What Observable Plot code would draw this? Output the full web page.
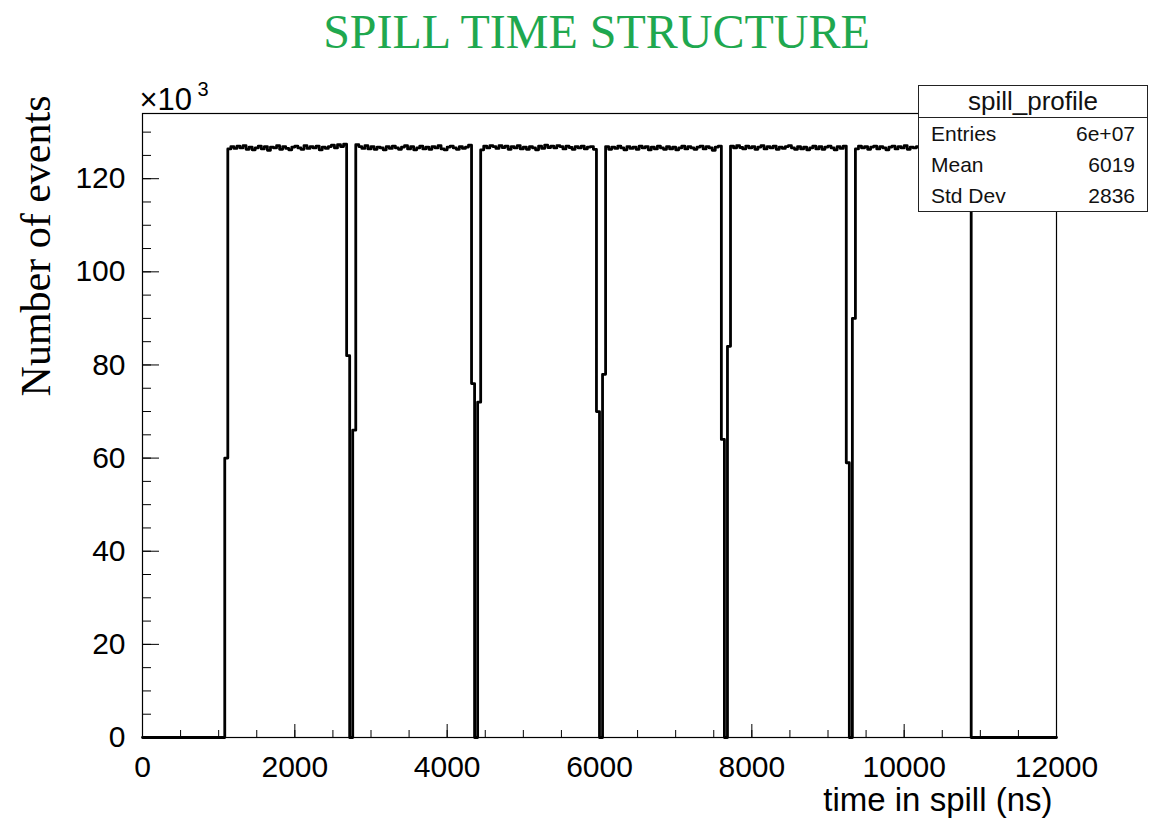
<!DOCTYPE html>
<html>
<head>
<meta charset="utf-8">
<script src="https://cdn.jsdelivr.net/npm/d3@7"></script>
<script src="https://cdn.jsdelivr.net/npm/@observablehq/plot@0.6"></script>
<style>
  html, body { margin: 0; padding: 0; background: #fff; }
  #wrap { position: relative; width: 1158px; height: 818px; overflow: hidden; background: #fff; }
  #stats { position: absolute; left: 918px; top: 85px; width: 228px; border: 1px solid #222; background: #fff;
           font-family: "Liberation Sans", Arial, sans-serif; color: #111; }
  #stats .st-title { height: 31px; line-height: 31px; text-align: center; font-size: 26px; border-bottom: 1px solid #222; }
  #stats .row { height: 31px; line-height: 31px; font-size: 21px; display: flex; justify-content: space-between; padding: 0 12px; }
</style>
</head>
<body>
<div id="wrap">
  <div id="chart"></div>
  <div id="stats"></div>
</div>
<script>
// ---- Data (counts in units of 10^3 events, 40 ns bins) ----
const binWidth = 40;
const xMax = 12000;
const leadZeros = [0,0,0,0,0,0,0,0,0,0, 0,0,0,0,0,0,0,0,0,0, 0,0,0,0,0,0,0];
const riseBin = [60];
const spill1 = [126.4,126.9,126.5,127.0,126.6,127.1,126.3,126.8,126.2,126.6,
                127.0,126.4,126.9,126.1,126.8,126.6,127.1,126.3,126.9,126.5,
                126.2,126.8,127.0,126.6,126.3,127.1,126.5,126.9,126.6,127.0,
                126.2,126.8,126.5,126.9,127.2,126.6,127.3,126.9,127.4];
const dip1 = [82, 0, 66];
const spill2 = [127.3,126.9,126.5,127.1,126.4,126.9,126.3,126.8,126.6,126.2,
                126.9,126.5,127.0,126.6,126.3,126.8,127.1,126.4,126.9,126.2,
                126.6,127.0,126.4,126.8,126.3,126.9,126.6,127.1,126.4,126.2,
                126.8,127.0,126.6,126.3,126.9,126.5,126.8,127.2];
const dip2 = [76, 0, 72];
const spill3 = [126.2,127.0,126.6,127.1,126.9,126.5,127.1,126.7,127.0,126.3,
                126.9,126.6,127.1,126.4,126.8,126.3,126.9,126.6,126.2,127.0,
                126.5,127.2,126.7,127.0,126.6,127.1,126.9,126.4,127.0,126.7,
                126.3,126.9,126.6,127.0,126.4,126.8,126.9,126.3];
const dip3 = [70, 0, 78];
const spill4 = [126.9,126.3,126.8,126.5,127.0,126.6,126.2,126.9,126.5,126.8,
                126.3,127.0,126.6,126.9,126.2,126.8,126.4,127.0,126.6,126.3,
                126.9,126.4,126.8,126.2,126.6,127.0,126.4,126.9,126.6,126.3,
                126.8,127.0,126.4,126.9,126.6,126.1,126.8,127.0];
const dip4 = [64, 0, 84];
const spill5 = [127.0,126.6,127.1,126.7,126.4,127.0,126.6,126.9,126.3,126.8,
                127.1,126.4,126.9,126.6,127.0,126.3,126.8,126.5,126.9,127.1,
                126.6,126.3,126.9,126.4,126.8,126.2,126.6,127.0,126.4,126.9,
                126.3,126.8,127.0,126.6,126.2,126.9,126.5,127.0];
const dip5 = [59, 0, 90];
const spill6 = [126.4,127.0,126.6,126.9,126.3,126.8,127.0,126.4,126.9,126.6,
                126.2,126.8,127.0,126.4,126.9,126.6,127.1,126.3,126.8,126.6,
                126.9,126.4,127.0,126.6,126.8,126.3,126.9,126.5,127.0,126.6,
                126.8,126.4,126.9,126.6,127.0,126.4,126.8,126.6];
const trailZeros = [0,0,0,0,0,0,0,0,0,0, 0,0,0,0,0,0,0,0,0,0, 0,0,0,0,0,0,0,0];

const xMajorTicks = [0, 2000, 4000, 6000, 8000, 10000, 12000];
const xMinorTicks = d3.range(0, 12001, 500);
const yMajorTicks = [0, 20, 40, 60, 80, 100, 120];
const yMinorTicks = d3.range(0, 131, 5);

const titleText = "SPILL TIME STRUCTURE";
const xLabel = "time in spill (ns)";
const yLabel = "Number of events";
const statsName = "spill_profile";
const statsLabels = ["Entries", "Mean", "Std Dev"];
const statsValues = ["6e+07", "6019", "2836"];

// ---- Build histogram outline ----
const counts = [...leadZeros, ...riseBin, ...spill1, ...dip1, ...spill2, ...dip2, ...spill3,
                ...dip3, ...spill4, ...dip4, ...spill5, ...dip5, ...spill6, ...trailZeros];
const points = counts.map((c, i) => ({t: i * binWidth, n: c}));
points.push({t: xMax, n: counts[counts.length - 1]});

const fontSans = "'Liberation Sans', Arial, Helvetica, sans-serif";
const fontSerif = "'Liberation Serif', 'Times New Roman', serif";

const plot = Plot.plot({
  width: 1158,
  height: 818,
  marginLeft: 142,
  marginRight: 102,
  marginTop: 113,
  marginBottom: 81,
  style: {fontFamily: fontSans, background: "#fff", color: "#000"},
  x: {domain: [0, xMax]},
  y: {domain: [0, 134]},
  marks: [
    Plot.line(points, {x: "t", y: "n", curve: "step-after", stroke: "#000", strokeWidth: 2.8}),
    Plot.frame({stroke: "#000", strokeWidth: 1.2}),
    Plot.axisX({ticks: xMinorTicks, tickSize: -7, tickFormat: () => "", label: null}),
    Plot.axisX({ticks: xMajorTicks, tickSize: -13, tickPadding: 31, fontSize: 30, tickFormat: d => String(d), label: null}),
    Plot.axisY({ticks: yMinorTicks, tickSize: -9, tickFormat: () => "", label: null}),
    Plot.axisY({ticks: yMajorTicks, tickSize: -17, tickPadding: 34, fontSize: 30, tickFormat: d => String(d), label: null}),
    Plot.text([titleText], {frameAnchor: "top", text: d => d, textAnchor: "middle", lineAnchor: "bottom",
      dx: -3, dy: -66, fill: "#1fa84f", fontSize: 48, fontFamily: fontSerif}),
    Plot.text([yLabel], {frameAnchor: "top-left", text: d => d, rotate: -90, textAnchor: "end", lineAnchor: "top",
      dx: -122, dy: -18, fontSize: 42, fontFamily: fontSerif, fill: "#000"}),
    Plot.text([xLabel], {frameAnchor: "bottom-right", text: d => d, textAnchor: "end", lineAnchor: "bottom",
      dx: -4, dy: 73, fontSize: 33, fontFamily: fontSans, fill: "#000"}),
    Plot.text(["\u00d710"], {frameAnchor: "top-left", text: d => d, textAnchor: "start", lineAnchor: "bottom",
      dx: -3, dy: -4, fontSize: 31, fontFamily: fontSans, fill: "#000"}),
    Plot.text(["3"], {frameAnchor: "top-left", text: d => d, textAnchor: "start", lineAnchor: "bottom",
      dx: 55, dy: -18, fontSize: 20, fontFamily: fontSans, fill: "#000"})
  ]
});
document.getElementById("chart").appendChild(plot);

// ---- Stats box ----
const stats = document.getElementById("stats");
const t = document.createElement("div");
t.className = "st-title";
t.textContent = statsName;
stats.appendChild(t);
statsLabels.forEach((lab, i) => {
  const r = document.createElement("div");
  r.className = "row";
  const a = document.createElement("span"); a.textContent = lab;
  const b = document.createElement("span"); b.textContent = statsValues[i];
  r.appendChild(a); r.appendChild(b);
  stats.appendChild(r);
});
</script>
</body>
</html>
